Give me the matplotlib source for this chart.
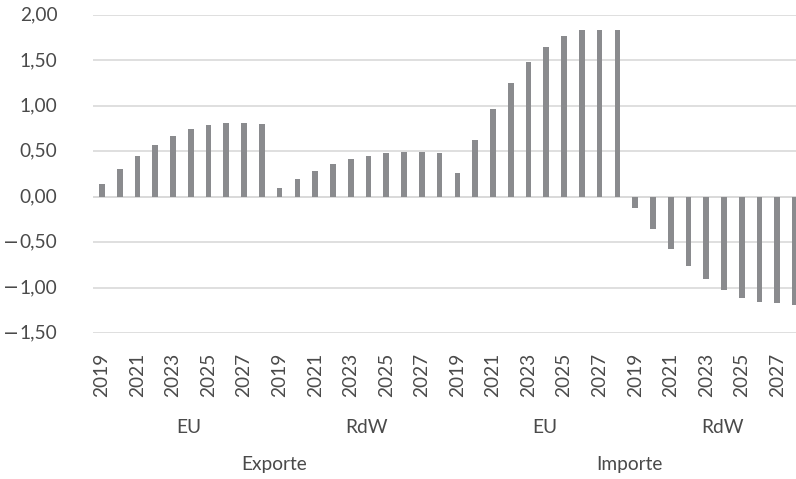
import numpy as np
import matplotlib.pyplot as plt

plt.rcParams['font.family'] = ['Lato', 'DejaVu Sans']

years = list(range(2019, 2029))
flows = ['Exporte', 'Importe']
regions = ['EU', 'RdW']

# values per block, 2019..2028
export_eu = [0.14, 0.30, 0.45, 0.57, 0.67, 0.74, 0.79, 0.81, 0.81, 0.80]
export_rdw = [0.095, 0.19, 0.28, 0.36, 0.41, 0.45, 0.48, 0.49, 0.49, 0.48]
import_eu = [0.26, 0.62, 0.97, 1.25, 1.48, 1.65, 1.77, 1.83, 1.84, 1.84]
import_rdw = [-0.12, -0.355, -0.58, -0.76, -0.91, -1.03, -1.11, -1.16, -1.17, -1.19]

values = export_eu + export_rdw + import_eu + import_rdw
n_years = len(years)
x = np.arange(len(values))

text_col = '#4a4a4a'
grid_col = '#d9d9d9'
bar_col = '#8a8b8e'
fs = 13.8

fig = plt.figure(figsize=(7.96, 4.79), dpi=100)
ax = fig.add_axes([93 / 796, 1 - 333 / 479, 711 / 796, 318 / 479])

ax.bar(x, values, width=0.32, color=bar_col, zorder=3)

ax.set_xlim(-0.5, len(values) - 0.5)
ax.set_ylim(-1.5, 2.0)
ax.set_yticks(np.arange(-1.5, 2.01, 0.5))
ax.set_yticklabels([])
ax.grid(axis='y', color=grid_col, linewidth=1.2, zorder=0)
ax.axhline(0, color=grid_col, linewidth=1.2, zorder=1)

# y labels drawn by hand so the minus gets a wide glyph
ylab_trans = ax.get_yaxis_transform()
for v in ax.get_yticks():
    txt = f'{abs(v):.2f}'.replace('.', ',')
    ax.text(-0.05, v, txt, transform=ylab_trans, ha='right', va='center',
            fontsize=fs, color=text_col)
    if v < 0:
        ax.text(-0.104, v, '\u2212', transform=ylab_trans, ha='right',
                va='center', fontsize=fs, color=text_col,
                family='DejaVu Sans')

for s in ax.spines.values():
    s.set_visible(False)
ax.tick_params(axis='y', length=0)

# every other year as tick label
ax.set_xticks(x[::2])
ax.set_xticklabels([str(years[i % n_years]) for i in x[::2]], rotation=90)
ax.tick_params(axis='x', length=0, pad=14, labelsize=fs, labelcolor=text_col)

# region and flow labels below the year labels
trans = ax.get_xaxis_transform()
for k in range(len(flows) * len(regions)):
    center = k * n_years + (n_years - 1) / 2
    ax.text(center + 0.4, -0.296, regions[k % 2], transform=trans,
            ha='center', va='center', fontsize=fs, color=text_col)
for k, name in enumerate(flows):
    center = k * 2 * n_years + (2 * n_years - 1) / 2
    ax.text(center + 0.2, -0.415, name, transform=trans,
            ha='center', va='center', fontsize=fs, color=text_col)

fig.savefig('out.png', dpi=100)
